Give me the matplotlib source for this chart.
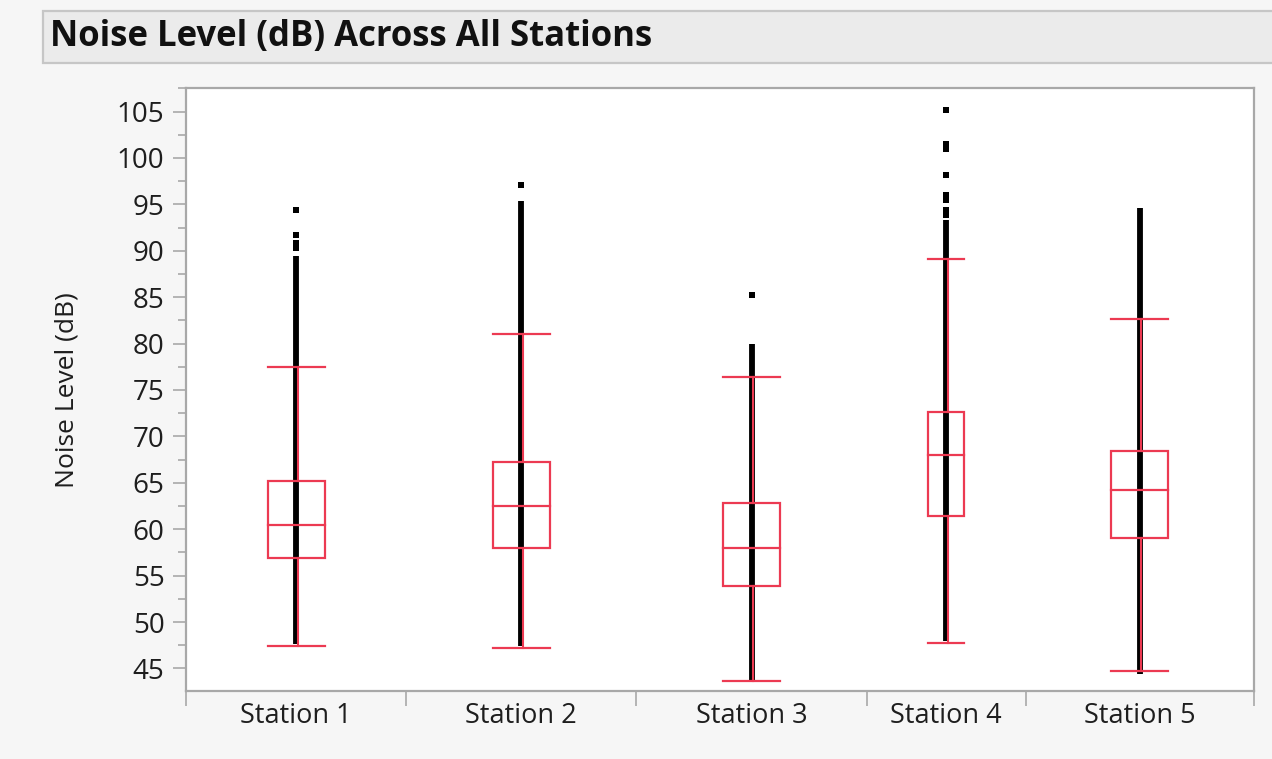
import matplotlib
matplotlib.use('Agg')
import matplotlib.pyplot as plt
import numpy as np
from matplotlib.patches import Rectangle
from matplotlib.ticker import FixedLocator, MultipleLocator

# ---------------- data ----------------
stations = ['Station 1', 'Station 2', 'Station 3', 'Station 4', 'Station 5']
group_widths = [220, 230, 230, 159, 228]          # relative category widths on the x axis
whisker_low = [47.4, 47.2, 43.6, 47.7, 44.7]
q1 = [56.9, 58.0, 53.9, 61.4, 59.0]
median = [60.4, 62.5, 58.0, 68.0, 64.2]
q3 = [65.2, 67.2, 62.8, 72.6, 68.4]
whisker_high = [77.5, 81.0, 76.4, 89.1, 82.6]
points_min = [47.6, 47.4, 43.6, 48.0, 44.4]         # dense run of data points
points_max = [89.4, 95.4, 79.9, 93.3, 94.6]
outliers = [
    [90.3, 90.8, 91.7, 94.4],
    [97.1],
    [85.2],
    [93.8, 94.4, 95.45, 96.0, 98.2, 101.0, 101.5, 105.2],
    [],
]
box_widths = [57, 57, 57, 36, 57]
yticks = list(range(45, 106, 5))

# ---------------- style ----------------
W, H, DPI = 1272, 759, 100
BG = '#F6F6F6'
RED = '#EC3A52'
GRID = '#A8A8A8'
FONT = 'Open Sans'
plt.rcParams['font.family'] = [FONT, 'DejaVu Sans']

fig = plt.figure(figsize=(W / DPI, H / DPI), dpi=DPI, facecolor=BG)

# title bar
fig.patches.append(Rectangle((43 / W, 1 - 63 / H), 1.0, 52 / H, transform=fig.transFigure,
                             facecolor='#EBEBEB', edgecolor='#C6C6C6', lw=1.6, zorder=0))
fig.text(50 / W, 1 - 37 / H, 'Noise Level (dB) Across All Stations', fontsize=25,
         fontweight='bold', color='#111111', va='center', ha='left')

left, right, top, bottom = 186, 1254, 88.3, 690.7
ax = fig.add_axes([left / W, 1 - bottom / H, (right - left) / W, (bottom - top) / H])
ax.set_facecolor('white')

edges = np.concatenate([[0], np.cumsum(group_widths)])
centers = (edges[:-1] + edges[1:]) / 2

for i in range(len(stations)):
    c = centers[i]
    bw = box_widths[i]
    # data points (dense run + sparse points)
    ax.plot([c, c], [points_min[i], points_max[i]], color='black', lw=4.2,
            solid_capstyle='butt', zorder=2)
    if outliers[i]:
        ax.plot([c] * len(outliers[i]), outliers[i], ls='none', marker='s', ms=3.8,
                color='black', mec='black', mew=0, zorder=2)
    # whiskers
    ax.plot([c + 1.5, c + 1.5], [whisker_low[i], q1[i]], color=RED, lw=1.5, zorder=3)
    ax.plot([c + 1.5, c + 1.5], [q3[i], whisker_high[i]], color=RED, lw=1.5, zorder=3)
    # caps
    ax.plot([c - bw / 2, c + bw / 2], [whisker_low[i]] * 2, color=RED, lw=1.6, zorder=3)
    ax.plot([c - bw / 2, c + bw / 2], [whisker_high[i]] * 2, color=RED, lw=1.6, zorder=3)
    # box
    ax.add_patch(Rectangle((c - bw / 2, q1[i]), bw, q3[i] - q1[i], fill=False,
                           edgecolor=RED, lw=1.6, zorder=3))
    ax.plot([c - bw / 2, c + bw / 2], [median[i]] * 2, color=RED, lw=1.6, zorder=3)

ax.set_xlim(edges[0], edges[-1])
ax.set_ylim(42.6, 107.5)

for s in ax.spines.values():
    s.set_color(GRID)
    s.set_linewidth(1.6)

ax.yaxis.set_major_locator(FixedLocator(yticks))
ax.yaxis.set_minor_locator(MultipleLocator(2.5))
ax.tick_params(axis='y', which='major', length=9.5, width=1.2, color=GRID,
               labelsize=20, labelcolor='#1E1E1E', pad=6)
ax.tick_params(axis='y', which='minor', length=5.5, width=1.2, color=GRID)

ax.xaxis.set_major_locator(FixedLocator(edges))
ax.xaxis.set_minor_locator(FixedLocator(centers))
ax.xaxis.set_major_formatter(plt.NullFormatter())
ax.set_xticks(centers, labels=stations, minor=True)
ax.tick_params(axis='x', which='major', length=11, width=1.2, color=GRID)
ax.tick_params(axis='x', which='minor', length=0, labelsize=19.5, labelcolor='#1E1E1E', pad=8)

ax.set_ylabel('Noise Level (dB)', fontsize=19, color='#1E1E1E')
ax.yaxis.set_label_coords((80 - left) / (right - left), 0.5 - (390 - (top + bottom) / 2) / (bottom - top))

fig.savefig('out.png', dpi=DPI, facecolor=BG)
